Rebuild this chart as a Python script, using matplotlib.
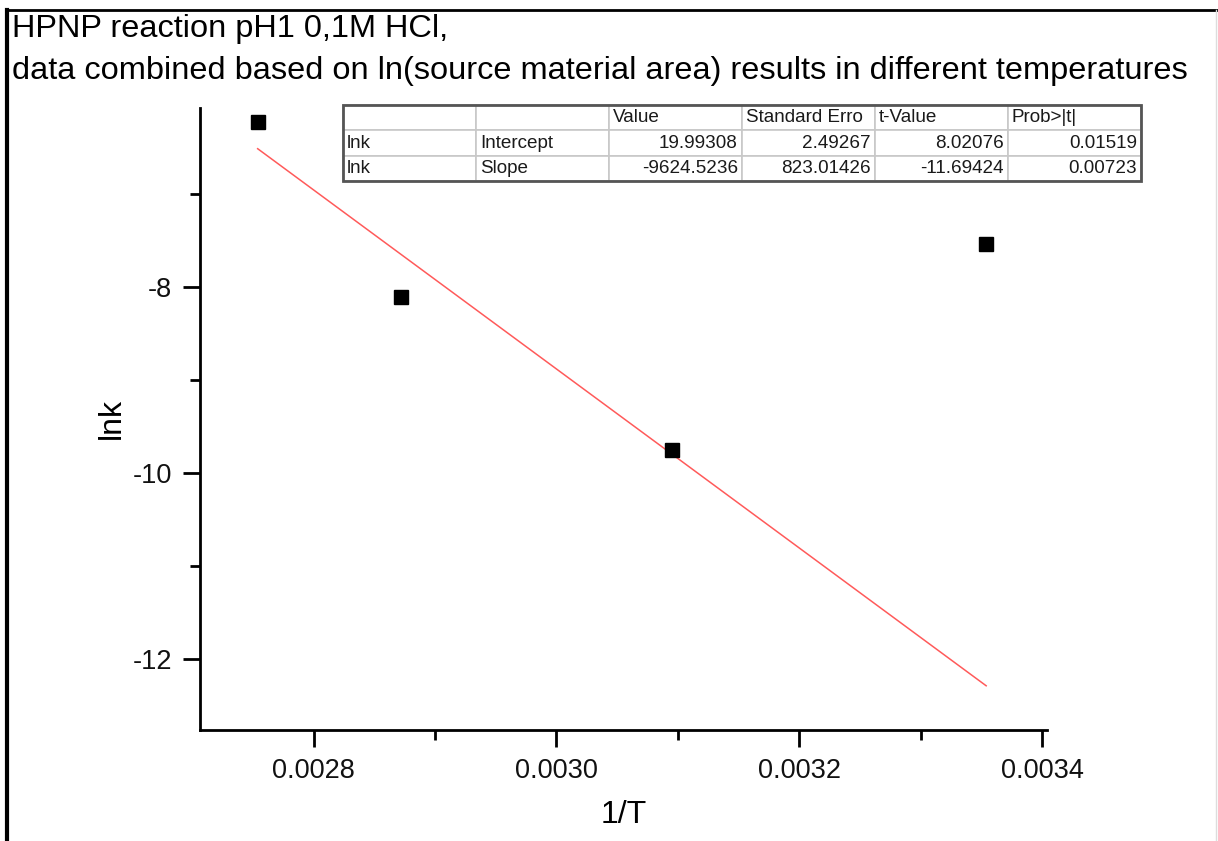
import matplotlib.pyplot as plt
from matplotlib.ticker import MultipleLocator
from matplotlib.lines import Line2D

plt.rcParams['font.family'] = ['Liberation Sans', 'DejaVu Sans']

# data
inv_T = [0.002754, 0.002872, 0.003095, 0.003354]
lnk = [-6.23, -8.11, -9.75, -7.54]

# fit parameters from the results table
intercept = 19.99308
slope = -9624.5236

col_labels = ['', '', 'Value', 'Standard Erro', 't-Value', 'Prob>|t|']
table_rows = [
    ['lnk', 'Intercept', '19.99308', '2.49267', '8.02076', '0.01519'],
    ['lnk', 'Slope', '-9624.5236', '823.01426', '-11.69424', '0.00723'],
]

fig = plt.figure(figsize=(12.18, 8.41), dpi=100)
ax = fig.add_axes([0.1642, 0.1320, 0.6954, 0.7396])

# fit line over the data range
x_fit = [min(inv_T), max(inv_T)]
y_fit = [intercept + slope * x for x in x_fit]
ax.plot(x_fit, y_fit, color='#ff5a5a', lw=1.1, zorder=2)
ax.plot(inv_T, lnk, 's', color='black', ms=10, zorder=3)

ax.set_xlim(0.0027065, 0.0034041)
ax.set_ylim(-12.763, -6.075)
ax.xaxis.set_major_locator(MultipleLocator(0.0002))
ax.xaxis.set_minor_locator(MultipleLocator(0.0001))
ax.yaxis.set_major_locator(MultipleLocator(2))
ax.yaxis.set_minor_locator(MultipleLocator(1))
ax.xaxis.set_major_formatter(lambda v, p: f'{v:.4f}')
ax.yaxis.set_major_formatter(lambda v, p: f'{v:.0f}')
ax.tick_params(which='major', direction='out', length=12, width=2, labelsize=19.5,
               pad=8, labelcolor='#111111')
ax.tick_params(which='minor', direction='out', length=7, width=2)
for s in ['top', 'right']:
    ax.spines[s].set_visible(False)
for s in ['left', 'bottom']:
    ax.spines[s].set_linewidth(2)

ax.set_xlabel('1/T', fontsize=23, labelpad=12)
ax.set_ylabel('lnk', fontsize=23, labelpad=4)

# results table
tbl = ax.table(cellText=table_rows, colLabels=col_labels,
               bbox=[0.1688, 0.8826, 0.9421, 0.1222], zorder=5)
tbl.auto_set_font_size(False)
for (r, c), cell in tbl.get_celld().items():
    cell.set_edgecolor('#c8c8c8')
    cell.set_linewidth(1.2)
    cell.set_facecolor('white')
    cell.get_text().set_fontsize(13.6)
    cell.get_text().set_color('#1a1a1a')
    cell.PAD = 0.03
    if r > 0 and c >= 2:
        cell.get_text().set_ha('right')
    else:
        cell.get_text().set_ha('left')
tbl_frame = plt.Rectangle((0.1688, 0.8826), 0.9421, 0.1222, transform=ax.transAxes,
                          fill=False, edgecolor='#555555', lw=2, zorder=6, clip_on=False)
ax.add_patch(tbl_frame)

fig.text(0.010, 0.9655, 'HPNP reaction pH1 0,1M HCl,', fontsize=23.4, va='center', ha='left')
fig.text(0.010, 0.9156, 'data combined based on ln(source material area) results in different temperatures',
         fontsize=23.4, va='center', ha='left')

# figure frame
fig.add_artist(Line2D([0.006, 0.006], [0, 0.988], color='black', lw=3, transform=fig.transFigure))
fig.add_artist(Line2D([0.006, 1.0], [0.988, 0.988], color='black', lw=2, transform=fig.transFigure))
fig.add_artist(Line2D([0.998, 0.998], [0, 0.988], color='#dddddd', lw=1, transform=fig.transFigure))

fig.savefig('out.png', dpi=100)
